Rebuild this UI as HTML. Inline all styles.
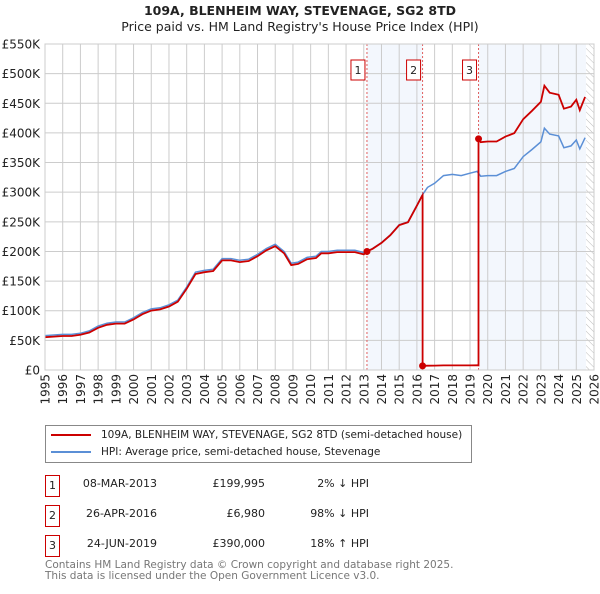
<!DOCTYPE html>
<html><head><meta charset="utf-8"><style>
body{margin:0;background:#fff;font-family:"DejaVu Sans","Liberation Sans",sans-serif;}
svg text{font-family:"DejaVu Sans","Liberation Sans",sans-serif;}
</style></head><body>
<svg id="c" width="600" height="590" xmlns="http://www.w3.org/2000/svg">
<defs><pattern id="hatch" width="5" height="5" patternUnits="userSpaceOnUse" patternTransform="rotate(-45)"><line x1="0" y1="0" x2="0" y2="5" stroke="#bbb" stroke-width="1"/></pattern></defs>
<text x="300" y="15" text-anchor="middle" font-size="12.5" font-weight="bold" fill="#222">109A, BLENHEIM WAY, STEVENAGE, SG2 8TD</text>
<text x="300" y="31" text-anchor="middle" font-size="12.5" fill="#222">Price paid vs. HM Land Registry's House Price Index (HPI)</text>
<g id="plot"></g>
</svg>
<script>
const hpiYears=[1995,1995.5,1996,1996.5,1997,1997.5,1998,1998.5,1999,1999.5,2000,2000.5,2001,2001.5,2002,2002.5,2003,2003.5,2004,2004.5,2005,2005.5,2006,2006.5,2007,2007.5,2008,2008.5,2008.9,2009.3,2009.8,2010.3,2010.6,2011,2011.5,2012,2012.5,2013,2013.5,2014,2014.5,2015,2015.5,2016,2016.3,2016.6,2017,2017.5,2018,2018.5,2019,2019.4,2019.6,2020,2020.5,2021,2021.5,2022,2022.5,2023,2023.2,2023.5,2024,2024.3,2024.7,2025,2025.2,2025.5];
const hpiValues=[58,59,60,60,62,66,74,79,81,81,88,97,103,105,110,118,140,165,168,170,188,188,185,187,195,205,212,200,180,182,190,192,200,200,202,202,202,198,205,215,228,245,250,278,295,308,315,328,330,328,332,335,327,328,328,335,340,360,372,385,408,398,395,375,378,388,373,392];
const saleDates=[2013.18,2016.32,2019.48];
const salePrices=[199.995,6.98,390];
const saleLabels=["1","2","3"];
const yTicks=[0,50,100,150,200,250,300,350,400,450,500,550];
const xTicks=[1995,1996,1997,1998,1999,2000,2001,2002,2003,2004,2005,2006,2007,2008,2009,2010,2011,2012,2013,2014,2015,2016,2017,2018,2019,2020,2021,2022,2023,2024,2025,2026];
const X0=45,X1=594,Y0=370,Y1=44;
const sx=y=>X0+(y-1995)/31*(X1-X0);
const sy=v=>Y0-v/550*(Y0-Y1);
const NS="http://www.w3.org/2000/svg";
const g=document.getElementById('plot');
function mk(t,a,p){const e=document.createElementNS(NS,t);for(const k in a)e.setAttribute(k,a[k]);(p||g).appendChild(e);return e;}
function hpiAt(t){for(let i=1;i<hpiYears.length;i++){if(t<=hpiYears[i]){const f=(t-hpiYears[i-1])/(hpiYears[i]-hpiYears[i-1]);return hpiValues[i-1]+f*(hpiValues[i]-hpiValues[i-1]);}}return hpiValues[hpiValues.length-1];}
let r=mk('rect',{x:sx(saleDates[0]),y:Y1,width:sx(saleDates[1])-sx(saleDates[0]),height:Y0-Y1,fill:'#eef3fc',opacity:0.7});


r=mk('rect',{x:sx(saleDates[2]),y:Y1,width:sx(2025.55)-sx(saleDates[2]),height:Y0-Y1,fill:'#eef3fc',opacity:0.7});


r=mk('rect',{x:sx(2025.55),y:Y1,width:X1-sx(2025.55),height:Y0-Y1,fill:'url(#hatch)'});


yTicks.forEach(v=>{
 const l=mk('line',{x1:X0,x2:X1,y1:sy(v),y2:sy(v),stroke:'#ccc','stroke-width':1});
 
 
 const t=mk('text',{x:40,y:sy(v)+4.5,'text-anchor':'end','font-size':12,fill:'#222'});
 t.textContent=v===0?'£0':'£'+v+'K';
 
 
});
xTicks.forEach(y=>{
 const l=mk('line',{x1:sx(y),x2:sx(y),y1:Y1,y2:Y0,stroke:'#ccc','stroke-width':1});
 
 
 const t=mk('text',{x:0,y:0,'text-anchor':'end','font-size':12,fill:'#222',transform:`translate(${sx(y)+4.5},374) rotate(-90)`});
 t.textContent=y;
 
 
});
saleDates.forEach((d,i)=>{
 const l=mk('line',{x1:sx(d),x2:sx(d),y1:Y1,y2:Y0,stroke:'#e06060','stroke-width':1,'stroke-dasharray':'2,2'});
 
 
 const b=mk('rect',{x:sx(d)-16,y:60,width:14,height:20,fill:'#fff',stroke:'#c00','stroke-width':1});
 
 
 const t=mk('text',{x:sx(d)-9,y:74,'text-anchor':'middle','font-size':11,fill:'#222'});
 t.textContent=saleLabels[i];
 
 
});
let pts=hpiYears.map((y,i)=>sx(y).toFixed(1)+','+sy(hpiValues[i]).toFixed(1)).join(' ');
const hl=mk('polyline',{points:pts,fill:'none',stroke:'#5b8fd6','stroke-width':1.5});


const rp=[];
const ratio0=salePrices[0]/hpiAt(saleDates[0]);
hpiYears.forEach((y,i)=>{ if(y<saleDates[0]) rp.push([y,hpiValues[i]*ratio0]); });
for(let s=0;s<saleDates.length;s++){
 const ratio=salePrices[s]/hpiAt(saleDates[s]);
 const end=s+1<saleDates.length?saleDates[s+1]:2025.55;
 rp.push([saleDates[s],salePrices[s]]);
 hpiYears.forEach((y,i)=>{ if(y>saleDates[s]&&y<end) rp.push([y,hpiValues[i]*ratio]); });
 if(s+1<saleDates.length) rp.push([end,hpiAt(end)*ratio]);
}
pts=rp.map(p=>sx(p[0]).toFixed(1)+','+(sy(p[1])+ (p[0]<saleDates[0]?1.5:0)).toFixed(1)).join(' ');
const rl=mk('polyline',{points:pts,fill:'none',stroke:'#cc0000','stroke-width':1.8});


saleDates.forEach((d,i)=>{
 const c=mk('circle',{cx:sx(d),cy:sy(salePrices[i]),r:3.5,fill:'#cc0000'});
 
 
});
const ax=mk('rect',{x:X0,y:Y1,width:X1-X0,height:Y0-Y1,fill:'none',stroke:'#ccc'});


</script>
<div style="position:absolute;left:45px;top:425px;width:425px;height:36px;border:1px solid #888;font-size:10.5px;color:#222;">
 <div style="position:absolute;left:5px;top:3px;white-space:nowrap;"><span style="display:inline-block;width:40px;height:2px;background:#cc0000;vertical-align:middle;margin-right:10px;"></span>109A, BLENHEIM WAY, STEVENAGE, SG2 8TD (semi-detached house)</div>
 <div style="position:absolute;left:5px;top:20px;white-space:nowrap;"><span style="display:inline-block;width:40px;height:2px;background:#5b8fd6;vertical-align:middle;margin-right:10px;"></span>HPI: Average price, semi-detached house, Stevenage</div>
</div>
<div style="position:absolute;left:0;top:0;font-size:11px;color:#222;">
 <div>
  <div style="position:absolute;left:45px;top:475px;width:13px;height:20px;border:1px solid #c00;text-align:center;line-height:20px;">1</div>
  <div style="position:absolute;left:60px;top:477px;width:97px;text-align:right;">08-MAR-2013</div>
  <div style="position:absolute;left:180px;top:477px;width:85px;text-align:right;">£199,995</div>
  <div style="position:absolute;left:280px;top:477px;width:89px;text-align:right;">2% ↓ HPI</div>
 </div>
 <div>
  <div style="position:absolute;left:45px;top:505px;width:13px;height:20px;border:1px solid #c00;text-align:center;line-height:20px;">2</div>
  <div style="position:absolute;left:60px;top:507px;width:97px;text-align:right;">26-APR-2016</div>
  <div style="position:absolute;left:180px;top:507px;width:85px;text-align:right;">£6,980</div>
  <div style="position:absolute;left:280px;top:507px;width:89px;text-align:right;">98% ↓ HPI</div>
 </div>
 <div>
  <div style="position:absolute;left:45px;top:535px;width:13px;height:20px;border:1px solid #c00;text-align:center;line-height:20px;">3</div>
  <div style="position:absolute;left:60px;top:537px;width:97px;text-align:right;">24-JUN-2019</div>
  <div style="position:absolute;left:180px;top:537px;width:85px;text-align:right;">£390,000</div>
  <div style="position:absolute;left:280px;top:537px;width:89px;text-align:right;">18% ↑ HPI</div>
 </div>
</div>
<div style="position:absolute;left:45px;top:560px;font-size:10.5px;color:#777;line-height:11px;">Contains HM Land Registry data © Crown copyright and database right 2025.<br>This data is licensed under the Open Government Licence v3.0.</div>
</body></html>
